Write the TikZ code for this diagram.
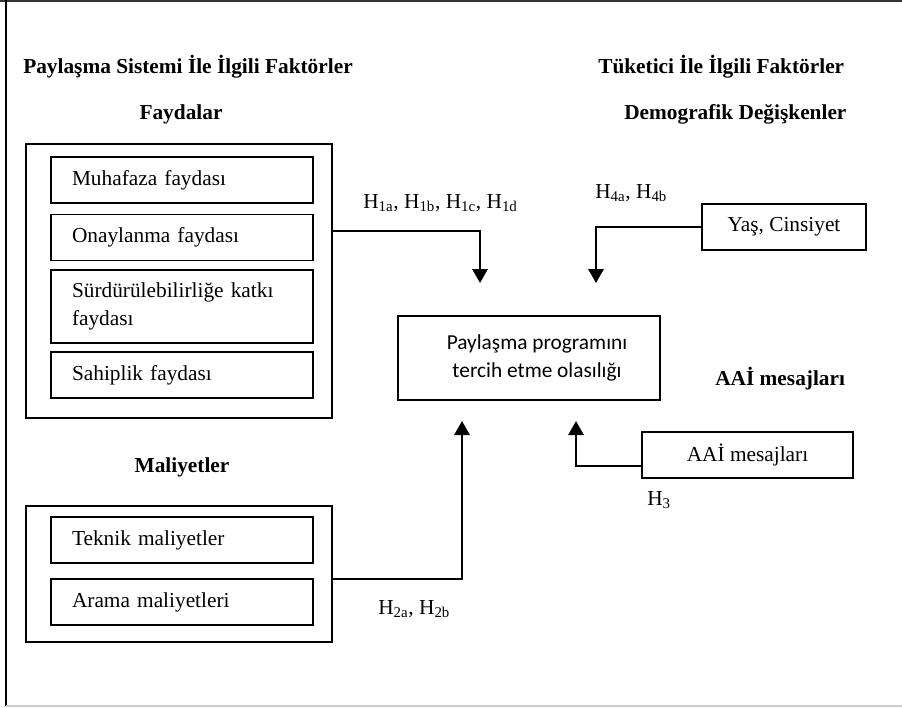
\documentclass[tikz,border=0pt]{standalone}
\usepackage{fontspec}
\setmainfont{Liberation Serif}
\newfontfamily\calibri{Carlito}
\usetikzlibrary{arrows.meta}
\tikzset{
	heading/.style={font=\fontsize{16}{19}\selectfont\bfseries, inner sep=0pt},
	hyp/.style={font=\fontsize{16}{19}\selectfont, inner sep=0pt, anchor=west},
	itembox/.style={draw, line width=1.3pt, minimum width=196.5pt, minimum height=34.5pt, text width=165pt, inner xsep=15.75pt, align=left, font=\fontsize{16}{21}\selectfont},
	groupbox/.style={draw, line width=1.3pt, minimum width=229.5pt, inner sep=0pt},
	plainbox/.style={draw, line width=1.3pt, minimum height=34.5pt, inner sep=0pt, font=\fontsize{16}{19}\selectfont},
	conn/.style={line width=1.5pt, -{Triangle[length=10.5pt,width=11.5pt]}}
}
\begin{document}
\begin{tikzpicture}[x=0.75pt,y=-0.75pt]
	\useasboundingbox (0,0) rectangle (902,707);
	\draw[line width=1.5pt, black!80] (0,1) -- (902,1);
	\draw[line width=1.5pt] (6,0) -- (6,706);
	\draw[line width=1pt, black!20] (6,706) -- (902,706);

	\node[heading, anchor=west] (sistem) at (23,67) {Paylaşma Sistemi İle İlgili Faktörler};
	\node[heading, anchor=west] (tuketici) at (598,67) {Tüketici İle İlgili Faktörler};
	\node[heading] (faydalar) at (181,114) {Faydalar};
	\node[heading, anchor=west] (demografik) at (624,114) {Demografik Değişkenler};
	\node[heading] (maliyetler) at (182,467) {Maliyetler};
	\node[heading, anchor=west] (aaibaslik) at (715,379) {AAİ mesajları};

	\node[groupbox, minimum height=205.5pt] (faydabox) at (179,281) {};
	\node[itembox] (muhafaza) at (182,180) {Muhafaza faydası};
	\node[itembox] (onay) at (182,237.5) {Onaylanma faydası};
	\node[itembox, minimum height=54.75pt] (surdur) at (182,306.5) {Sürdürülebilirliğe katkı\\faydası};
	\node[itembox] (sahip) at (182,375) {Sahiplik faydası};

	\node[groupbox, minimum height=102pt] (maliyetbox) at (179,574) {};
	\node[itembox] (teknik) at (182,540) {Teknik maliyetler};
	\node[itembox] (arama) at (182,602) {Arama maliyetleri};

	\node[draw, line width=1.3pt, minimum width=196.5pt, minimum height=63pt, align=center, font=\calibri\fontsize{16}{21}\selectfont] (tercih) at (529,358) {\hspace*{12pt}Paylaşma programını\\\hspace*{12pt}tercih etme olasılığı};
	\node[plainbox, minimum width=123pt] (yas) at (784,227) {Yaş, Cinsiyet};
	\node[plainbox, minimum width=158.25pt] (aai) at (747.5,455) {AAİ mesajları};

	\coordinate (h1tip) at (480,283);
	\coordinate (h4tip) at (596,283);
	\coordinate (h2tip) at (462,421);
	\coordinate (h3tip) at (576,421);
	\draw[conn] (faydabox.east |- 0,231) -| (h1tip);
	\draw[conn] (yas.west) -| (h4tip);
	\draw[conn] (maliyetbox.east |- 0,579) -| (h2tip);
	\draw[conn] (aai.west |- 0,466) -| (h3tip);

	\node[hyp] (h1) at (363,203) {H\textsubscript{1a}, H\textsubscript{1b}, H\textsubscript{1c}, H\textsubscript{1d}};
	\node[hyp] (h4) at (595,193) {H\textsubscript{4a}, H\textsubscript{4b}};
	\node[hyp] (h2) at (378,609) {H\textsubscript{2a}, H\textsubscript{2b}};
	\node[hyp] (h3) at (647,500) {H\textsubscript{3}};
\end{tikzpicture}
\end{document}
